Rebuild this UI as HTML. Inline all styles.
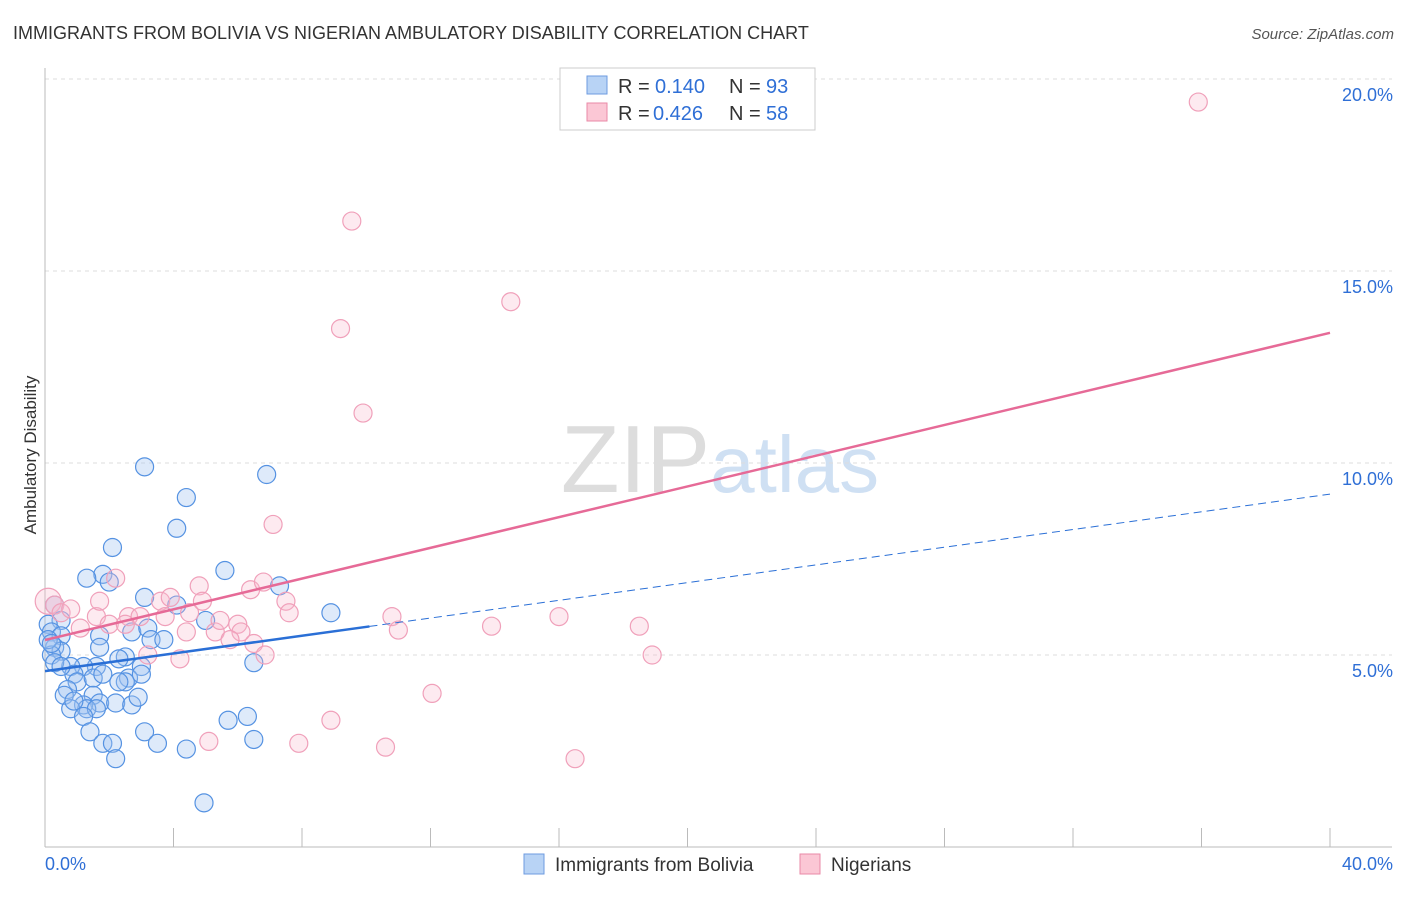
<!DOCTYPE html>
<html><head><meta charset="utf-8"><style>
body{margin:0;background:#fff;font-family:"Liberation Sans",sans-serif;}
svg text{font-family:"Liberation Sans",sans-serif;}
</style></head><body>
<svg width="1406" height="892" id="c">
<text x="13" y="39" font-size="18" fill="#333">IMMIGRANTS FROM BOLIVIA VS NIGERIAN AMBULATORY DISABILITY CORRELATION CHART</text>
<text x="1394" y="39" font-size="15" fill="#555" font-style="italic" text-anchor="end">Source: ZipAtlas.com</text>
<text x="36" y="455" font-size="17" fill="#333" text-anchor="middle" transform="rotate(-90 36 455)">Ambulatory Disability</text>
<text x="720" y="492" font-size="96" fill="#ddd" text-anchor="middle" font-family="Liberation Serif">ZIP<tspan fill="#cfe0f3" font-family="Liberation Sans" font-size="80">atlas</tspan></text>
<g id="grid"></g><g id="pts"></g><g id="lines"></g>
<g>
<rect x="560" y="68" width="255" height="62" fill="#fff" stroke="#ccc"/>
<rect x="587" y="76" width="20" height="18" fill="#b8d3f5" stroke="#6e9be0"/>
<rect x="587" y="103" width="20" height="18" fill="#fbc7d5" stroke="#e98aa7"/>
<text x="618" y="93" font-size="20" fill="#333">R =</text>
<text x="655" y="93" font-size="20" fill="#2f6fd6">0.140</text>
<text x="729" y="93" font-size="20" fill="#333">N =</text>
<text x="766" y="93" font-size="20" fill="#2f6fd6">93</text>
<text x="618" y="120" font-size="20" fill="#333">R =</text>
<text x="653" y="120" font-size="20" fill="#2f6fd6">0.426</text>
<text x="729" y="120" font-size="20" fill="#333">N =</text>
<text x="766" y="120" font-size="20" fill="#2f6fd6">58</text>
</g>
<g>
<rect x="524" y="854" width="20" height="20" fill="#b8d3f5" stroke="#6e9be0"/>
<text x="555" y="871" font-size="19" fill="#333">Immigrants from Bolivia</text>
<rect x="800" y="854" width="20" height="20" fill="#fbc7d5" stroke="#e98aa7"/>
<text x="831" y="871" font-size="19" fill="#333">Nigerians</text>
</g>
</svg>
<script>
const yTicks=[5,10,15,20];
const xTickLabels=["0.0%","40.0%"];
const blueX=[3.1,6.9,4.4,4.1,2.1,1.8,2.0,1.3,5.6,7.3,3.1,4.1,8.9,5.0,0.3,0.5,0.1,0.2,0.5,1.7,2.7,3.2,3.3,3.7,0.3,0.5,0.2,1.7,2.5,2.3,1.6,3.0,1.2,0.8,0.3,0.9,1.0,1.5,2.6,2.5,3.0,6.5,0.7,0.6,1.5,1.7,2.2,2.7,2.9,1.2,1.3,1.6,0.8,1.2,1.4,1.8,2.1,2.2,3.1,3.5,4.4,5.7,6.3,6.5,4.95,0.1,0.2,0.5,0.9,1.8,2.3];
const blueY=[9.9,9.7,9.1,8.3,7.8,7.1,6.9,7.0,7.2,6.8,6.5,6.3,6.1,5.9,6.3,5.9,5.8,5.6,5.5,5.5,5.6,5.7,5.4,5.4,5.2,5.1,5.0,5.2,4.95,4.9,4.7,4.7,4.7,4.7,4.8,4.5,4.3,4.4,4.4,4.3,4.5,4.8,4.1,3.95,3.95,3.75,3.75,3.7,3.9,3.7,3.6,3.6,3.6,3.4,3.0,2.7,2.7,2.3,3.0,2.7,2.55,3.3,3.4,2.8,1.15,5.4,5.3,4.7,3.8,4.5,4.3];
const pinkX=[35.9,9.55,14.5,9.2,9.9,7.1,0.1,0.3,0.5,0.8,1.6,1.7,2.2,2.0,2.6,2.96,3.6,3.74,3.9,4.8,4.9,4.5,4.4,5.3,5.45,6.0,6.1,6.4,6.8,7.5,7.6,6.5,6.85,4.2,3.2,10.8,11.0,13.9,16.0,18.5,18.9,12.05,8.9,7.9,10.6,16.5,5.1,1.1,2.5,5.76];
const pinkY=[19.4,16.3,14.2,13.5,11.3,8.4,6.4,6.3,6.1,6.2,6.0,6.4,7.0,5.8,6.0,6.0,6.4,6.0,6.5,6.8,6.4,6.1,5.6,5.6,5.9,5.8,5.6,6.7,6.9,6.4,6.1,5.3,5.0,4.9,5.0,6.0,5.65,5.75,6.0,5.75,5.0,4.0,3.3,2.7,2.6,2.3,2.75,5.7,5.8,5.4];
const blueFit=[4.58,9.19];
const pinkFit=[5.39,13.39];
const NS="http://www.w3.org/2000/svg";
const X=v=>45+v*32.125, Y=v=>847-v*38.4;
function mk(t,a,p){const e=document.createElementNS(NS,t);for(const k in a)e.setAttribute(k,a[k]);p.appendChild(e);return e;}
const grid=document.getElementById('grid'),pts=document.getElementById('pts'),lines=document.getElementById('lines');
yTicks.forEach(t=>{
 const l=mk('line',{x1:45,x2:1392,y1:Y(t),y2:Y(t),stroke:'#ddd','stroke-dasharray':'4,4'},grid);
 
 
 const tx=mk('text',{x:1393,y:Y(t)+22,'font-size':18,fill:'#2f6fd6','text-anchor':'end'},grid);
 tx.textContent=t.toFixed(1)+'%';
 
 
});
const ax=mk('line',{x1:45,x2:45,y1:68,y2:847,stroke:'#bbb'},grid);


const bx=mk('line',{x1:45,x2:1392,y1:847,y2:847,stroke:'#bbb'},grid);


for(let i=1;i<=10;i++){const t=mk('line',{x1:X(i*4),x2:X(i*4),y1:828,y2:847,stroke:'#bbb'},grid);
 
 }
xTickLabels.forEach((s,i)=>{const t=mk('text',{x:i?1393:45,y:870,'font-size':18,fill:'#2f6fd6','text-anchor':i?'end':'start'},grid);t.textContent=s;
 
 });
blueX.forEach((v,i)=>{const c=mk('circle',{cx:X(v),cy:Y(blueY[i]),r:9,fill:'rgba(160,195,240,0.35)',stroke:'#5592e2','stroke-width':1.2},pts);
 
 });
pinkX.forEach((v,i)=>{const c=mk('circle',{cx:X(v),cy:Y(pinkY[i]),r:i===6?13:9,fill:'rgba(248,185,205,0.3)',stroke:'#f0a0ba','stroke-width':1.2},pts);
 
 });
const bf=x=>blueFit[0]+(blueFit[1]-blueFit[0])*x/40;
const l1=mk('line',{x1:X(0),y1:Y(bf(0)),x2:X(10.1),y2:Y(bf(10.1)),stroke:'#2a6fd6','stroke-width':2.5},lines);


const l2=mk('line',{x1:X(10.1),y1:Y(bf(10.1)),x2:X(40),y2:Y(bf(40)),stroke:'#2a6fd6','stroke-width':1,'stroke-dasharray':'8,5'},lines);


const l3=mk('line',{x1:X(0),y1:Y(pinkFit[0]),x2:X(40),y2:Y(pinkFit[1]),stroke:'#e66a97','stroke-width':2.5},lines);


</script>
</body></html>
